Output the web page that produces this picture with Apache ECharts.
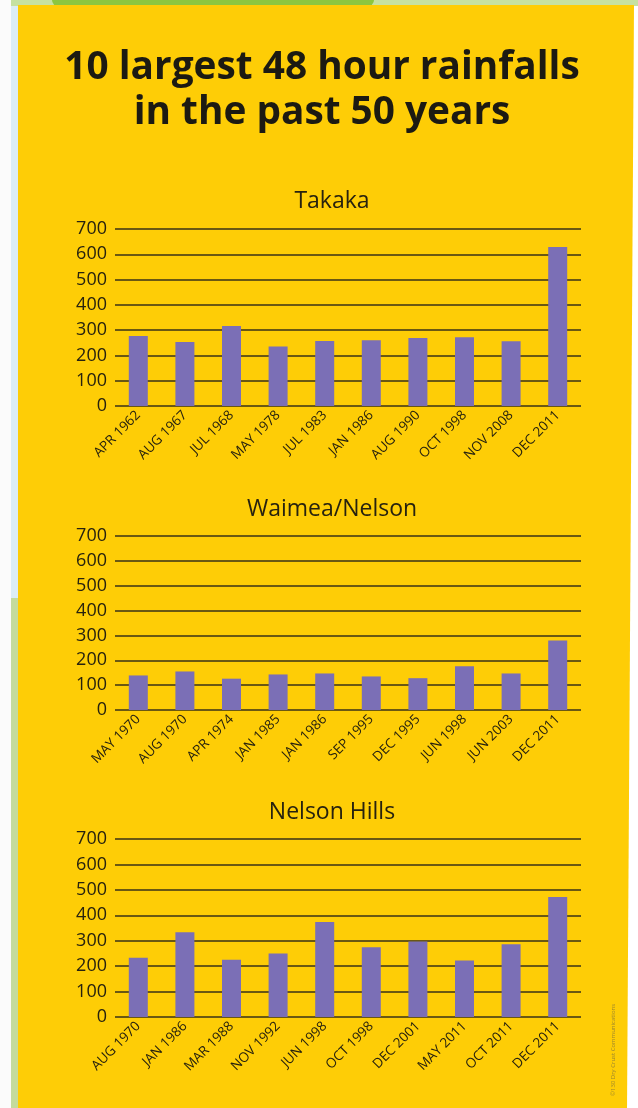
<!DOCTYPE html>
<html>
<head>
<meta charset="utf-8">
<script src="https://cdn.jsdelivr.net/npm/echarts@6/dist/echarts.min.js"></script>
<style>
html,body{margin:0;padding:0;background:#ffffff;}
#chart{width:638px;height:1108px;}
</style>
</head>
<body>
<div id="chart"></div>
<script>
// ---- Data ----
var mainTitleLine1 = '10 largest 48 hour rainfalls';
var mainTitleLine2 = 'in the past 50 years';
var credit = '©130 Dry Crust Communications';

var takakaTitle = 'Takaka';
var takakaCats = ['APR 1962','AUG 1967','JUL 1968','MAY 1978','JUL 1983','JAN 1986','AUG 1990','OCT 1998','NOV 2008','DEC 2011'];
var takakaVals = [277, 253, 316, 235, 257, 260, 269, 272, 256, 629];

var waimeaTitle = 'Waimea/Nelson';
var waimeaCats = ['MAY 1970','AUG 1970','APR 1974','JAN 1985','JAN 1986','SEP 1995','DEC 1995','JUN 1998','JUN 2003','DEC 2011'];
var waimeaVals = [139, 155, 126, 143, 147, 135, 128, 176, 147, 280];

var hillsTitle = 'Nelson Hills';
var hillsCats = ['AUG 1970','JAN 1986','MAR 1988','NOV 1992','JUN 1998','OCT 1998','DEC 2001','MAY 2011','OCT 2011','DEC 2011'];
var hillsVals = [233, 333, 225, 250, 374, 274, 297, 222, 286, 472];

var yMin = 0, yMax = 700, yStep = 100;

// ---- Styles ----
var YELLOW = '#fecd06';
var BAR = '#7b6fb6';
var GRID = '#6a5812';
var TEXT = '#27220f';
var FONT = '"Open Sans", "Noto Sans", sans-serif';

var panels = [
  {title: takakaTitle, cats: takakaCats, vals: takakaVals, top: 229, height: 177, titleY: 199},
  {title: waimeaTitle, cats: waimeaCats, vals: waimeaVals, top: 536, height: 174, titleY: 507},
  {title: hillsTitle, cats: hillsCats, vals: hillsVals, top: 839, height: 178, titleY: 810}
];

var chart = echarts.init(document.getElementById('chart'), null, {renderer: 'canvas'});

var grids = [], xAxes = [], yAxes = [], series = [], titles = [];
panels.forEach(function (p, i) {
  grids.push({left: 115, right: 57, top: p.top, height: p.height, containLabel: false});
  xAxes.push({
    type: 'category', gridIndex: i, data: p.cats,
    axisLine: {show: false}, axisTick: {show: false},
    axisLabel: {rotate: 45, margin: 7, color: TEXT, fontFamily: FONT, fontSize: 13.5, interval: 0}
  });
  yAxes.push({
    type: 'value', gridIndex: i, min: yMin, max: yMax, interval: yStep,
    axisLine: {show: false}, axisTick: {show: false},
    axisLabel: {margin: 8, color: TEXT, fontFamily: FONT, fontSize: 18},
    splitLine: {show: true, lineStyle: {color: GRID, width: 2}}
  });
  series.push({
    type: 'bar', xAxisIndex: i, yAxisIndex: i, data: p.vals,
    barWidth: 19, itemStyle: {color: BAR}, silent: true, animation: false
  });
  titles.push({
    text: p.title, left: 327, top: p.titleY - 3, textAlign: 'center', textVerticalAlign: 'middle',
    textStyle: {fontFamily: FONT, fontSize: 23, fontWeight: 'normal', color: TEXT}
  });
});

var graphics = [
  {type: 'rect', shape: {x: 0, y: 0, width: 11, height: 1108}, style: {fill: '#fbfbfb'}, z: -10},
  {type: 'rect', shape: {x: 11, y: 0, width: 8, height: 598}, style: {fill: '#dcedf6'}, z: -10},
  {type: 'rect', shape: {x: 11, y: 598, width: 8, height: 510}, style: {fill: '#c4db9c'}, z: -10},
  {type: 'rect', shape: {x: 11, y: 0, width: 627, height: 6}, style: {fill: '#c6e1a2'}, z: -10},
  {type: 'rect', shape: {x: 52, y: 0, width: 322, height: 6, r: [0, 0, 6, 6]}, style: {fill: '#8cc63f'}, z: -9},
  {type: 'polygon', shape: {points: [[18, 5], [634, 5], [627, 1108], [18, 1108]]}, style: {fill: YELLOW}, z: -8},
  {type: 'text', x: 322, y: 68, scaleX: 0.97, style: {text: mainTitleLine1, fill: '#1c1a12', font: 'bold 40px "Open Sans", sans-serif', align: 'center', verticalAlign: 'middle'}, z: 10},
  {type: 'text', x: 322, y: 113, scaleX: 0.97, style: {text: mainTitleLine2, fill: '#1c1a12', font: 'bold 40px "Open Sans", sans-serif', align: 'center', verticalAlign: 'middle'}, z: 10},
  {type: 'text', x: 613, y: 1050, rotation: Math.PI / 2, style: {text: credit, fill: '#9a8530', font: '6px "Open Sans", sans-serif', align: 'center', verticalAlign: 'middle'}, z: 10}
];

chart.setOption({
  backgroundColor: '#ffffff',
  animation: false,
  title: titles,
  grid: grids,
  xAxis: xAxes,
  yAxis: yAxes,
  series: series,
  graphic: graphics
});
</script>
</body>
</html>
